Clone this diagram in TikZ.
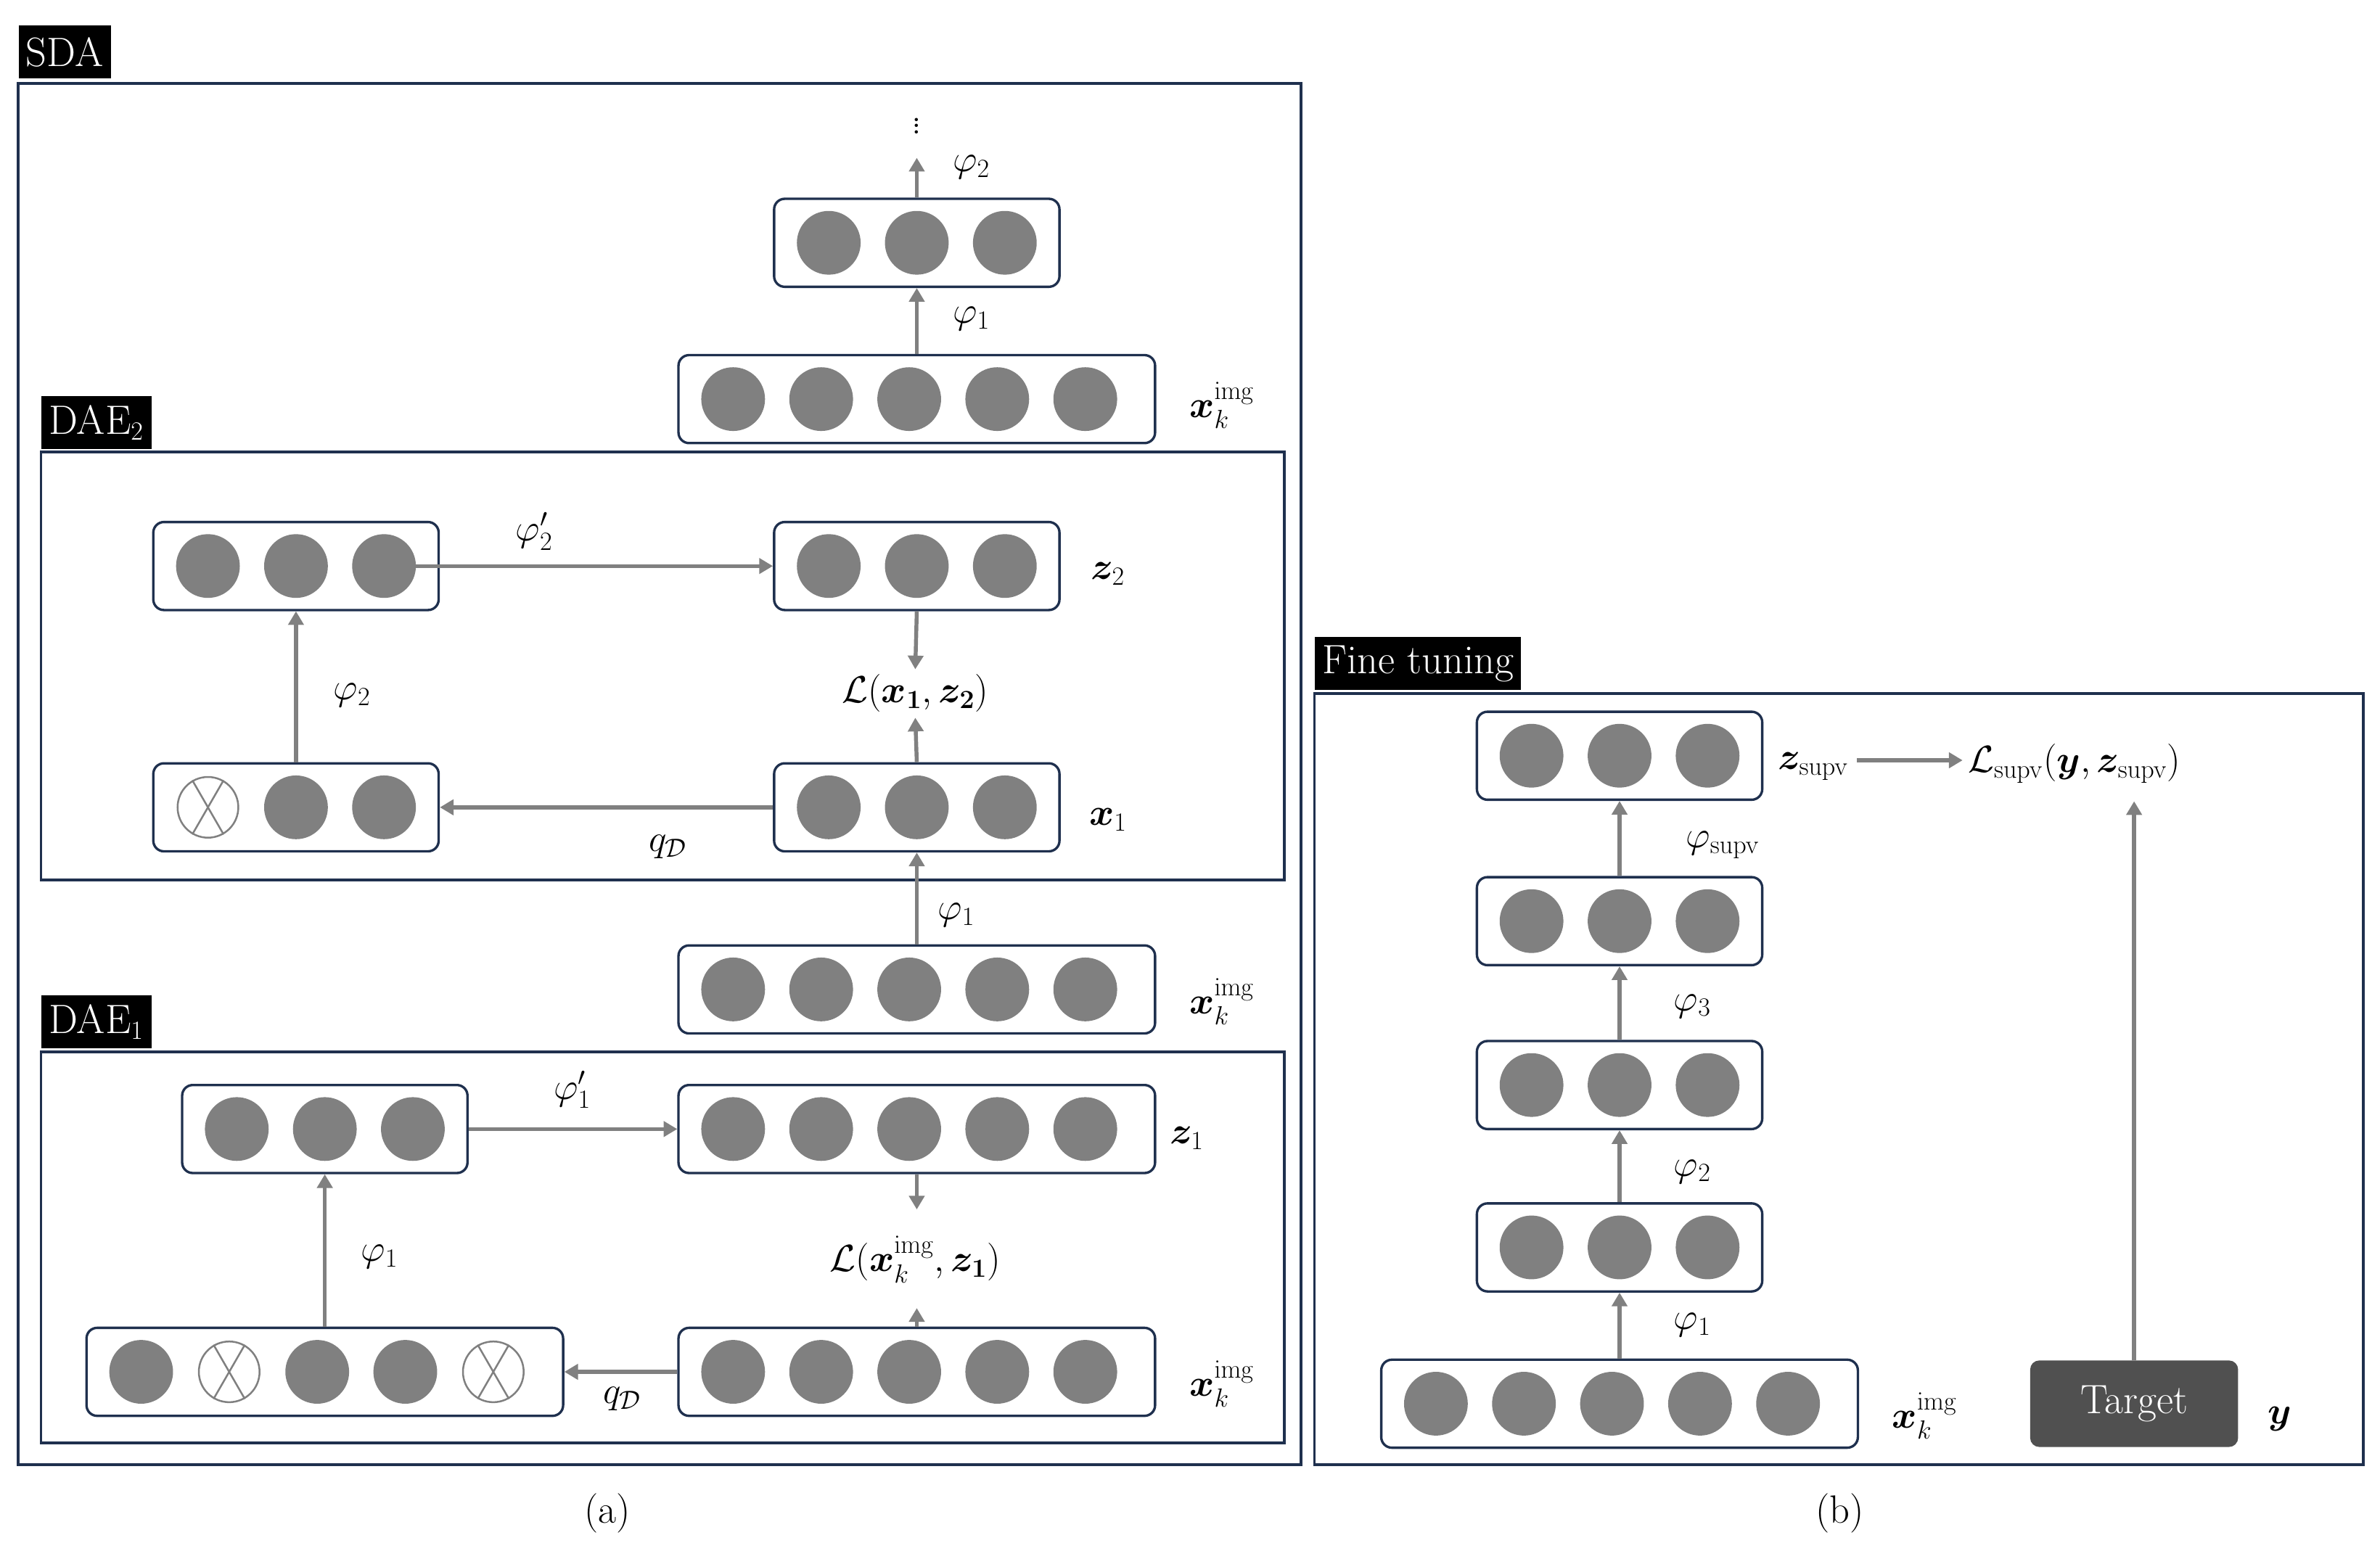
\documentclass[tikz,border=0pt]{standalone}
\usepackage{amsmath,bm}
\usetikzlibrary{arrows.meta,calc}
\definecolor{navyc}{RGB}{31,48,78}
\definecolor{neug}{RGB}{128,128,128}
\definecolor{tgt}{RGB}{80,80,80}
\begin{document}
\begin{tikzpicture}[x=1pt,y=-1pt,
  frame/.style={draw=navyc,line width=1.8pt},
  layer/.style={draw=navyc,line width=1.6pt,rounded corners=7pt,minimum height=58pt,inner sep=0pt},
  neu/.style={circle,fill=neug,minimum size=42pt,inner sep=0pt},
  xneu/.style={circle,draw=neug,line width=1.2pt,fill=white,minimum size=40pt,inner sep=0pt},
  arr/.style={draw=neug,line width=2.6pt,-{Triangle[length=9pt,width=10pt]}},
  tag/.style={fill=black,text=white,inner sep=5pt,anchor=south west,font=\fontsize{27}{30}\selectfont,minimum height=35pt},
  lab/.style={font=\fontsize{26}{30}\selectfont},
  figcap/.style={font=\fontsize{26}{30}\selectfont}]
\useasboundingbox (0,0) rectangle (1568,1022);
\newcommand{\mklayer}[5]{%
  \node[layer,minimum width=#4] (#1) at (#2,#3) {};
  \foreach \t [count=\k] in {#5} {
    \pgfmathsetmacro{\off}{(\k-1)*58-(#4-188)/2-58}
    \if\t x
      \node[xneu] (#1c\k) at ($(#1.center)+(\off,0)$) {};
      \draw[neug,line width=1.2pt] (#1c\k.60)--(#1c\k.240) (#1c\k.120)--(#1c\k.300);
    \else
      \node[neu] (#1c\k) at ($(#1.center)+(\off,0)$) {};
    \fi}}
% ===== (a) SDA =====
\draw[frame] (12,55) rectangle (857,965);
\node[tag] (tSDA) at (12,52) {SDA};
\mklayer{S3}{604}{160}{188}{n,n,n}
\mklayer{S5}{604}{263}{314}{n,n,n,n,n}
\coordinate (Stop) at (604,104);
\draw[arr] (S5) -- (S3);
\draw[arr] (S3) -- (Stop);
\node[lab] (dots) at (604,80) {$\vdots$};
\node[lab] (p2s) at (640,110) {$\varphi_2$};
\node[lab] (p1s) at (640,210) {$\varphi_1$};
\node[lab] (xs) at (805,267) {$\bm{x}_k^{\mathrm{img}}$};
% ===== DAE2 =====
\draw[frame] (27,298) rectangle (846,580);
\node[tag] (tD2) at (27,296) {DAE$_2$};
\mklayer{A}{195}{373}{188}{n,n,n}
\mklayer{B}{604}{373}{188}{n,n,n}
\mklayer{C}{195}{532}{188}{x,n,n}
\mklayer{D}{604}{532}{188}{n,n,n}
\mklayer{E}{604}{652}{314}{n,n,n,n,n}
\node[lab] (L2) at (603,457) {$\mathcal{L}(\bm{x_1},\bm{z_2})$};
\draw[arr] (Ac3.center) -- (B.west);
\draw[arr] (B.south) -- (L2.north);
\draw[arr] (D.north) -- (L2.south);
\draw[arr] (D.west) -- (C.east);
\draw[arr] (C.north) -- (A.south);
\draw[arr] (E.north) -- (D.south);
\node[lab] (pp2) at (352,350) {$\varphi_2'$};
\node[lab] (z2) at (730,378) {$\bm{z}_2$};
\node[lab] (q2) at (440,558) {$q_{\mathcal{D}}$};
\node[lab] (x1) at (730,540) {$\bm{x}_1$};
\node[lab] (p2a) at (232,458) {$\varphi_2$};
\node[lab] (p1a) at (630,603) {$\varphi_1$};
\node[lab] (xe) at (805,660) {$\bm{x}_k^{\mathrm{img}}$};
% ===== DAE1 =====
\draw[frame] (27,693) rectangle (846,951);
\node[tag] (tD1) at (27,691) {DAE$_1$};
\mklayer{F}{214}{744}{188}{n,n,n}
\mklayer{G}{604}{744}{314}{n,n,n,n,n}
\mklayer{H}{214}{904}{314}{n,x,n,n,x}
\mklayer{I}{604}{904}{314}{n,n,n,n,n}
\node[lab] (L1) at (603,830) {$\mathcal{L}(\bm{x}_k^{\mathrm{img}},\bm{z_1})$};
\coordinate (Gd) at (604,797);
\coordinate (Iu) at (604,862);
\draw[arr] (F.east) -- (G.west);
\draw[arr] (G.south) -- (Gd);
\draw[arr] (I.north) -- (Iu);
\draw[arr] (I.west) -- (H.east);
\draw[arr] (H.north -| F.south) -- (F.south);
\node[lab] (pp1) at (377,718) {$\varphi_1'$};
\node[lab] (z1) at (782,750) {$\bm{z}_1$};
\node[lab] (q1) at (410,922) {$q_{\mathcal{D}}$};
\node[lab] (p1b) at (250,828) {$\varphi_1$};
\node[lab] (xi) at (805,912) {$\bm{x}_k^{\mathrm{img}}$};
\node[figcap] (capa) at (400,997) {(a)};
% ===== (b) Fine tuning =====
\draw[frame] (866,457) rectangle (1557,965);
\node[tag] (tFT) at (866,455) {Fine tuning};
\mklayer{P}{1067}{498}{188}{n,n,n}
\mklayer{Q}{1067}{607}{188}{n,n,n}
\mklayer{R}{1067}{715}{188}{n,n,n}
\mklayer{T}{1067}{822}{188}{n,n,n}
\mklayer{U}{1067}{925}{314}{n,n,n,n,n}
\draw[arr] (U) -- (T);
\draw[arr] (T) -- (R);
\draw[arr] (R) -- (Q);
\draw[arr] (Q) -- (P);
\node[lab] (psup) at (1135,557) {$\varphi_{\mathrm{supv}}$};
\node[lab] (p3) at (1115,663) {$\varphi_3$};
\node[lab] (p2f) at (1115,772) {$\varphi_2$};
\node[lab] (p1f) at (1115,873) {$\varphi_1$};
\node[lab,anchor=west] (zs) at (1168,505) {$\bm{z}_{\mathrm{supv}}$};
\node[lab,anchor=west] (Ls) at (1293,503) {$\mathcal{L}_{\mathrm{supv}}(\bm{y},\bm{z}_{\mathrm{supv}})$};
\coordinate (zse) at ($(zs.east)+(2,-4)$);
\draw[arr] (zse) -- (Ls.west |- zse);
\node[fill=tgt,rounded corners=6pt,minimum width=137pt,minimum height=57pt,text=white,font=\fontsize{27}{30}\selectfont] (Tg) at (1406,925) {Target};
\coordinate (Lsb) at (1406,528);
\draw[arr] (Tg.north) -- (Lsb);
\node[lab] (yl) at (1502,935) {$\bm{y}$};
\node[lab] (xu) at (1268,933) {$\bm{x}_k^{\mathrm{img}}$};
\node[figcap] (capb) at (1212,997) {(b)};
\end{tikzpicture}
\end{document}
